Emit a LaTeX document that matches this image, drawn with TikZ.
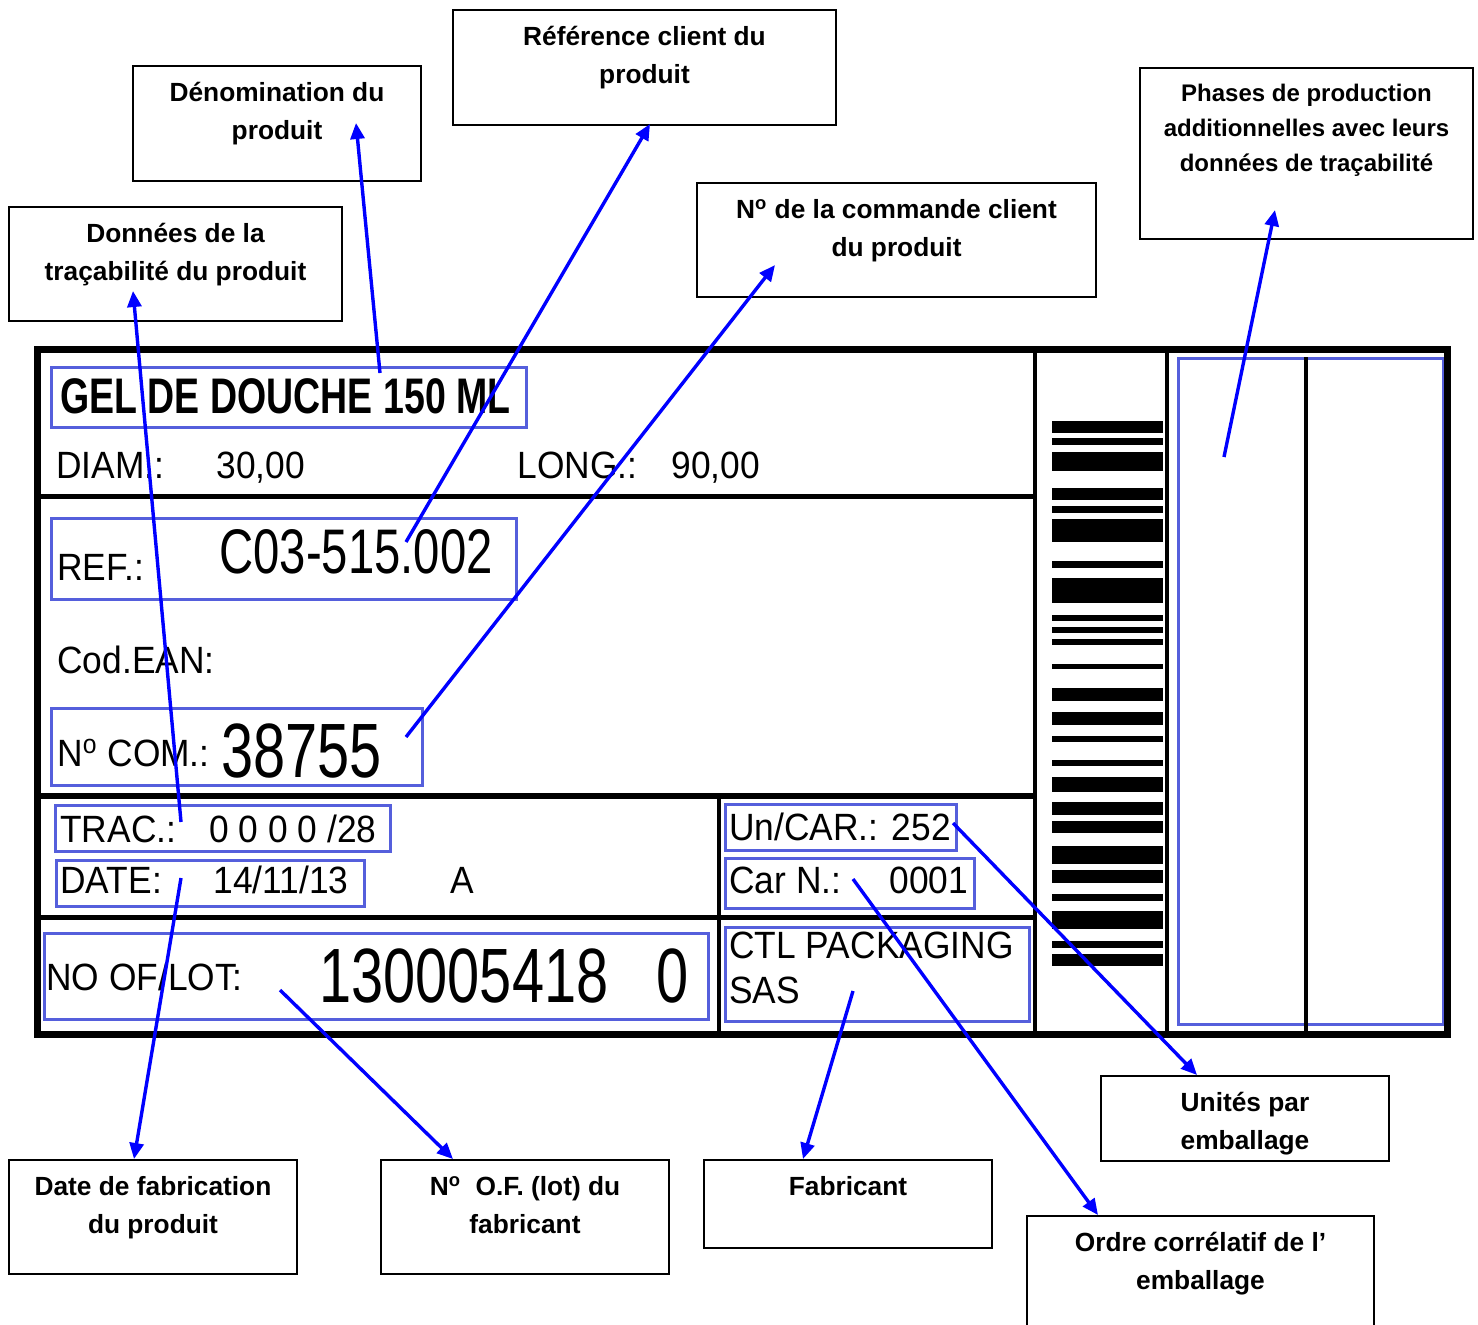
\documentclass[tikz,border=0pt]{standalone}
\usepackage{fontspec}
\setmainfont{Liberation Sans}
\newfontfamily\lblfont[FakeStretch=0.93]{Liberation Sans}
\newfontfamily\bigfont[FakeStretch=0.75]{Liberation Sans}
\usepackage{xcolor}
\usepackage{tikz}
\usetikzlibrary{arrows.meta, positioning, calc}
\definecolor{fieldblue}{RGB}{85,95,220}
\newcommand{\callbox}[4][17.5pt]{\parbox[c][#3][t]{#2}{\centering\rule{0pt}{#1}#4}}

\begin{document}
\begin{tikzpicture}[x=0.5pt, y=-0.5pt,
  frame/.style={draw=black, line width=3.5pt},
  rule/.style={draw=black, line width=2.5pt},
  vline/.style={draw=black, line width=2pt},
  field/.style={draw=fieldblue, line width=1.3pt, inner sep=0pt, anchor=north west},
  txt/.style={anchor=base west, inner sep=0pt, font=\lblfont\fontsize{19}{19}\selectfont},
  big/.style={anchor=base west, inner sep=0pt},
  callout/.style={draw=black, line width=1pt, inner sep=0pt, anchor=north west, font=\bfseries\fontsize{13.15}{19}\selectfont},
  arrow/.style={-{Triangle[length=8pt, width=7pt]}, draw=blue, line width=1.7pt}
]
  \fill[white] (0,0) rectangle (1478,1324);
  \useasboundingbox (0,0) rectangle (1478,1324);

  % Label fields
  \node[field, minimum width=237.5pt, minimum height=30pt] (gelbox) at (50,366) {};
  \node[field, minimum width=232.5pt, minimum height=40.5pt] (refbox) at (50,517) {};
  \node[field, minimum width=185.5pt, minimum height=38.5pt] (combox) at (50,707) {};
  \node[field, minimum width=167.5pt, minimum height=23pt] (tracbox) at (54,804) {};
  \node[field, minimum width=154pt, minimum height=23pt] (datebox) at (55,859) {};
  \node[field, minimum width=332pt, minimum height=43pt] (lotbox) at (43,932) {};
  \node[field, minimum width=115.5pt, minimum height=23pt] (ucarbox) at (724,803) {};
  \node[field, minimum width=124.5pt, minimum height=25pt] (carbox) at (724,857) {};
  \node[field, minimum width=152pt, minimum height=47pt] (ctlbox) at (724,926) {};
  \node[field, minimum width=132.5pt, minimum height=333pt] (phasebox) at (1177,357) {};

  % Label texts
  \node[big, font=\bigfont\bfseries\fontsize{25}{25}\selectfont] (gel) at (60,413) {GEL DE DOUCHE 150 ML};
  \node[txt] (diam) at (56,478) {DIAM.:};
  \node[txt] (diamv) at (216,478) {30,00};
  \node[txt] (long) at (517,478) {LONG.:};
  \node[txt] (longv) at (671,478) {90,00};
  \node[txt] (ref) at (57,580) {REF.:};
  \node[big, font=\bigfont\fontsize{31.5}{31.5}\selectfont] (refv) at (219,573) {C03-515.002};
  \node[txt] (ean) at (57,673) {Cod.EAN:};
  \node[txt] (com) at (57,766) {N\textsuperscript{o} COM.:};
  \node[big, font=\bigfont\fontsize{38.5}{38.5}\selectfont] (comv) at (221,777) {38755};
  \node[txt] (trac) at (60,842) {TRAC.:};
  \node[txt] (tracv) at (209,842) {0 0 0 0 /28};
  \node[txt] (date) at (60,893) {DATE:};
  \node[txt] (datev) at (213,893) {14/11/13};
  \node[txt] (datea) at (450,893) {A};
  \node[txt] (lot) at (46,990) {NO OF/LOT:};
  \node[big, font=\bigfont\fontsize{38.5}{38.5}\selectfont] (lotv) at (319,1002) {130005418};
  \node[big, font=\bigfont\fontsize{38.5}{38.5}\selectfont] (lotz) at (656,1002) {0};
  \node[txt] (ucar) at (729,840) {Un/CAR.: 252};
  \node[txt] (carn) at (729,893) {Car N.:};
  \node[txt] (carnv) at (889,893) {0001};
  \node[txt, align=left, font=\lblfont\fontsize{19}{22.5}\selectfont] (ctl) at (729,1003) {CTL PACKAGING\\SAS};

  % Barcode
  \foreach \a/\b in {421/433, 438/445, 452/471, 488/500, 506/513, 519/542, 561/568, 578/603,
                     615/621, 627/633, 639/645, 664/669, 688/701, 712/725, 736/742, 760/766,
                     777/792, 802/815, 821/833, 846/864, 870/883, 894/901, 911/929, 941/948, 954/966}
    \fill[black] (1052,\a) rectangle (1163,\b);

  % Label rules
  \draw[rule] (40,496) -- (1035,496);
  \draw[rule, line width=3pt] (40,796) -- (1035,796);
  \draw[rule] (40,917) -- (1035,917);
  \draw[vline] (1035,352) -- (1035,1031);
  \draw[vline] (719,796) -- (719,1031);
  \draw[vline] (1167,352) -- (1167,1031);
  \draw[vline] (1306,357) -- (1306,1031);
  \draw[frame] (37,349) rectangle (1447,1034);

  % Callouts (top)
  \node[callout] (dnom) at (132,65) {\callbox{144pt}{57.5pt}{Dénomination du\\produit}};
  \node[callout] (refc) at (452,9) {\callbox{191.5pt}{57.5pt}{Référence client du\\produit}};
  \node[callout] (dtra) at (8,206) {\callbox{166.5pt}{57pt}{Données de la\\traçabilité du produit}};
  \node[callout] (ncom) at (696,182) {\callbox{199.5pt}{57pt}{N\textsuperscript{o} de la commande client\\du produit}};
  \node[callout, font=\bfseries\fontsize{12}{17.5}\selectfont] (phas) at (1139,67)
    {\callbox[16.5pt]{166.5pt}{85.5pt}{Phases de production\\additionnelles avec leurs\\données de traçabilité}};

  % Callouts (bottom)
  \node[callout] (dfab) at (8,1159) {\callbox{144pt}{57pt}{Date de fabrication\\du produit}};
  \node[callout] (nof) at (380,1159) {\callbox{144pt}{57pt}{N\textsuperscript{o}\ \ O.F. (lot) du\\fabricant}};
  \node[callout] (fabr) at (703,1159) {\callbox{144pt}{44pt}{Fabricant}};
  \node[callout] (unit) at (1100,1075) {\callbox{144pt}{42.5pt}{Unités par\\emballage}};
  \node[callout] (ordr) at (1026,1215) {\callbox{173.5pt}{65pt}{Ordre corrélatif de l’\\emballage}};

  % Arrows
  \draw[arrow] ($(gelbox.north west)+(330,7)$) -- ($(dnom.north west)+(224,58)$);
  \draw[arrow] ($(refbox.north west)+(356,25)$) -- ($(refc.north west)+(198,115)$);
  \draw[arrow] ($(combox.north west)+(356,30)$) -- ($(ncom.north west)+(79,83)$);
  \draw[arrow] ($(tracbox.north west)+(127,18)$) -- ($(dtra.north west)+(125,85)$);
  \draw[arrow] ($(phasebox.north west)+(47,100)$) -- ($(phas.north west)+(136,143)$);
  \draw[arrow] ($(datebox.north west)+(126,19)$) -- ($(dfab.north west)+(126,0)$);
  \draw[arrow] ($(lotbox.north west)+(237,58)$) -- ($(nof.north west)+(73,0)$);
  \draw[arrow] ($(ctlbox.north west)+(129,65)$) -- ($(fabr.north west)+(100,0)$);
  \draw[arrow] ($(ucarbox.north west)+(229,20)$) -- ($(unit.north west)+(97,0)$);
  \draw[arrow] ($(carbox.north west)+(129,22)$) -- ($(ordr.north west)+(72,0)$);

\end{tikzpicture}
\end{document}
